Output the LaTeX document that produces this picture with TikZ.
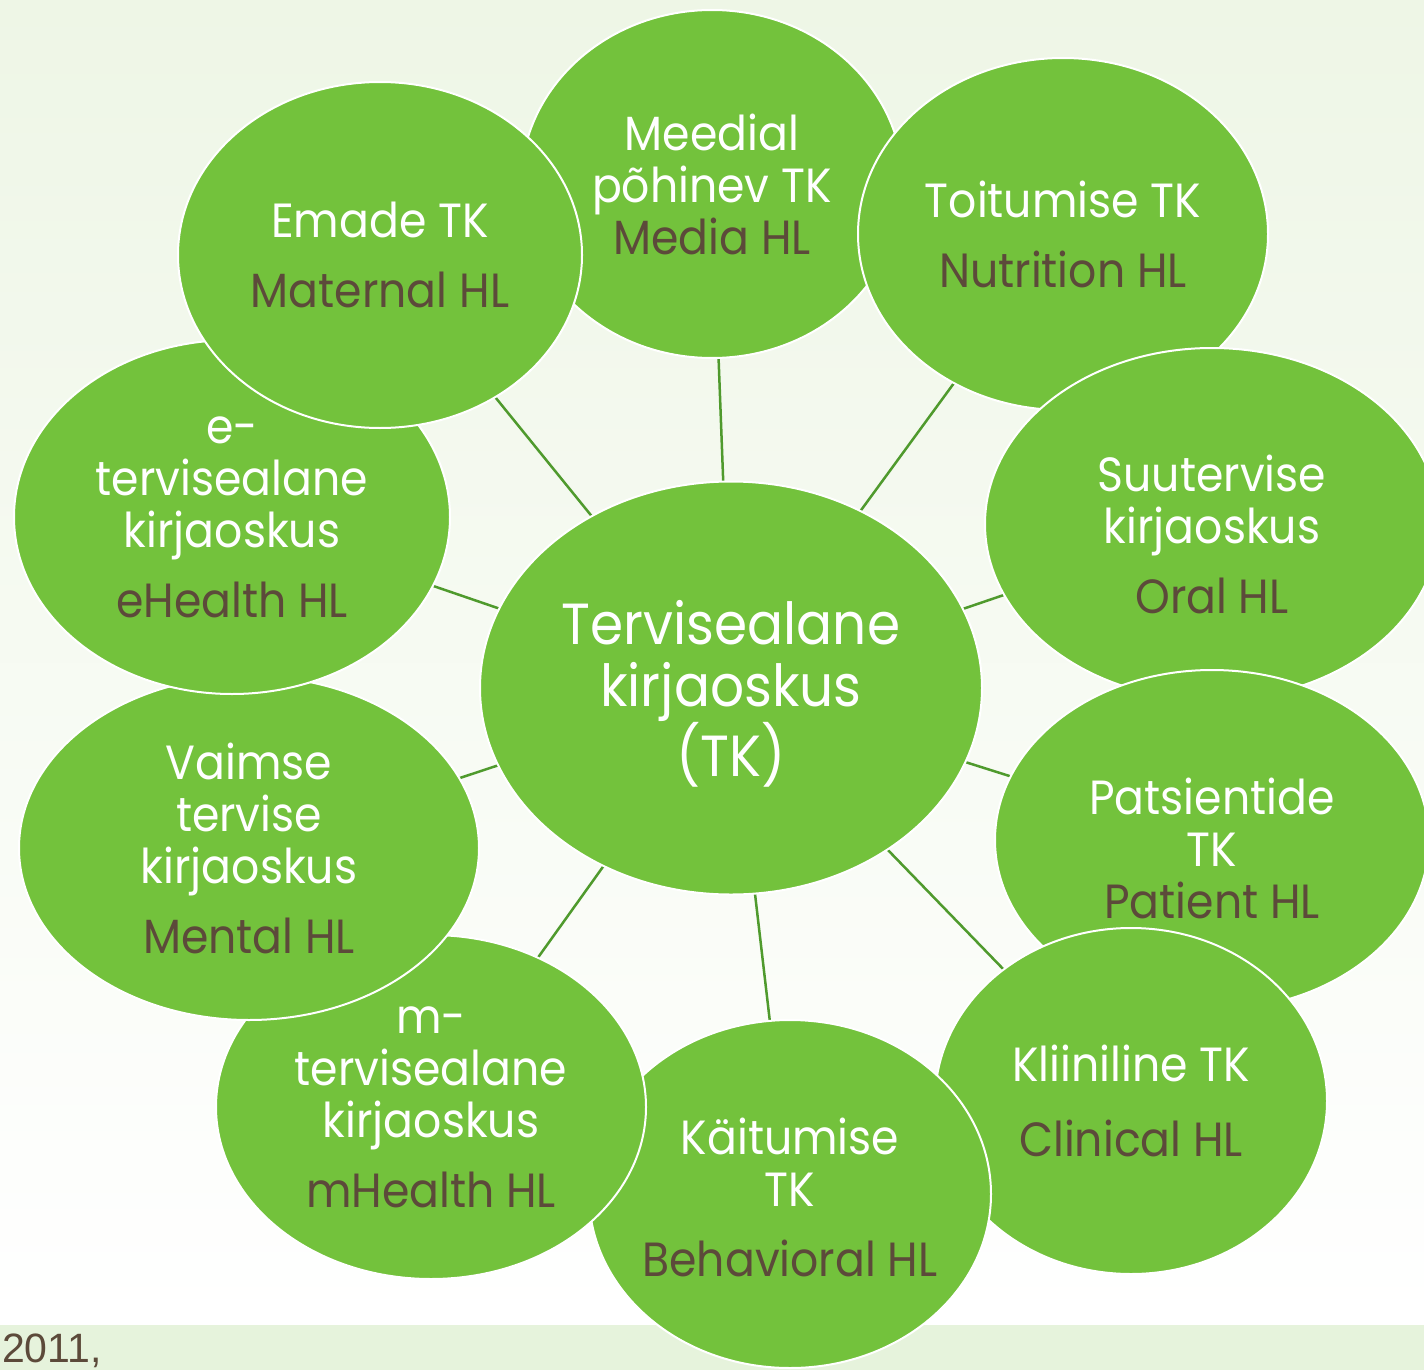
\documentclass[tikz,border=0pt]{standalone}
\usepackage{fontspec}
\setmainfont{Poppins}[FakeStretch=0.92]
\newfontfamily\yearfont{Liberation Sans}
\usetikzlibrary{shapes.geometric}
\definecolor{bubblegreen}{HTML}{73C23C}
\definecolor{spokegreen}{HTML}{4F9A2D}
\definecolor{hlbrown}{HTML}{5C4A3A}
\definecolor{bgtop}{HTML}{EEF6E6}
\definecolor{bandgreen}{HTML}{E6F3DC}
\pgfdeclarelayer{back}
\pgfdeclarelayer{spokes}
\pgfsetlayers{back,spokes,main}
\tikzset{
  bubble/.style={ellipse, fill=bubblegreen, draw=white, line width=2pt, inner sep=0pt},
  bubbletext/.style={text=white, align=center, inner sep=0pt, font=\fontsize{48}{52}\selectfont},
  spoke/.style={draw=spokegreen, line width=2.5pt}
}
\newcommand{\engl}[1]{\textcolor{hlbrown}{#1}}

\begin{document}
\begin{tikzpicture}[x=1pt, y=-1pt]
  \useasboundingbox (0,0) rectangle (1424,1370);
  \clip (0,0) rectangle (1424,1370);
  \begin{pgfonlayer}{back}
    \shade[top color=bgtop, bottom color=white] (0,0) rectangle (1424,1325);
    \fill[bandgreen] (0,1325) rectangle (1424,1370);
  \end{pgfonlayer}
  \node[anchor=base west, inner sep=0pt, text=hlbrown, font=\yearfont\fontsize{41}{45}\selectfont] (year) at (2,1362) {2011,};

  \node[bubble, minimum width=382, minimum height=348] (meedial) at (712,184) {};
  \node[bubbletext] (meedial-t) at (meedial) {Meedial\\põhinev TK\\\engl{Media HL}};
  \node[bubble, minimum width=410, minimum height=352] (toitumine) at (1063,234) {};
  \node[bubbletext] (toitumine-t) at (toitumine) {Toitumise TK\\[18pt]\engl{Nutrition HL}};
  \node[bubble, minimum width=454, minimum height=352] (suu) at (1212,524) {};
  \node[bubbletext] (suu-t) at ([yshift=-10pt]suu.center) {Suutervise\\kirjaoskus\\[18pt]\engl{Oral HL}};
  \node[bubble, minimum width=434, minimum height=340] (patsient) at (1212,840) {};
  \node[bubbletext] (patsient-t) at ([yshift=-8pt]patsient.center) {Patsientide\\TK\\\engl{Patient HL}};
  \node[bubble, minimum width=392, minimum height=346] (kliiniline) at (1131,1101) {};
  \node[bubbletext] (kliiniline-t) at (kliiniline) {Kliiniline TK\\[23pt]\engl{Clinical HL}};
  \node[bubble, minimum width=402, minimum height=348] (kaitumine) at (790,1194) {};
  \node[bubbletext] (kaitumine-t) at ([yshift=-3pt]kaitumine.center) {Käitumise\\TK\\[18pt]\engl{Behavioral HL}};
  \node[bubble, minimum width=430, minimum height=344] (mterv) at (431,1107) {};
  \node[bubbletext] (mterv-t) at (mterv) {m-\\tervisealane\\kirjaoskus\\[18pt]\engl{mHealth HL}};
  \node[bubble, minimum width=460, minimum height=344] (vaimne) at (249,848) {};
  \node[bubbletext] (vaimne-t) at (vaimne) {Vaimse\\tervise\\kirjaoskus\\[18pt]\engl{Mental HL}};
  \node[bubble, minimum width=436, minimum height=354] (eterv) at (232,517) {};
  \node[bubbletext] (eterv-t) at (eterv) {e-\\tervisealane\\kirjaoskus\\[18pt]\engl{eHealth HL}};
  \node[bubble, minimum width=404, minimum height=346] (emade) at (380,255) {};
  \node[bubbletext] (emade-t) at (emade) {Emade TK\\[18pt]\engl{Maternal HL}};

  \node[bubble, minimum width=502, minimum height=413] (keskus) at (731,688) {};
  \node[bubbletext, font=\fontsize{58}{62}\selectfont] (keskus-t) at ([yshift=-6pt]keskus.center) {Tervisealane\\kirjaoskus\\(TK)};

  \begin{pgfonlayer}{spokes}
    \foreach \n in {meedial,toitumine,suu,patsient,kliiniline,kaitumine,mterv,vaimne,eterv,emade}
      \draw[spoke] (keskus.center) -- (\n.center);
  \end{pgfonlayer}
\end{tikzpicture}
\end{document}
